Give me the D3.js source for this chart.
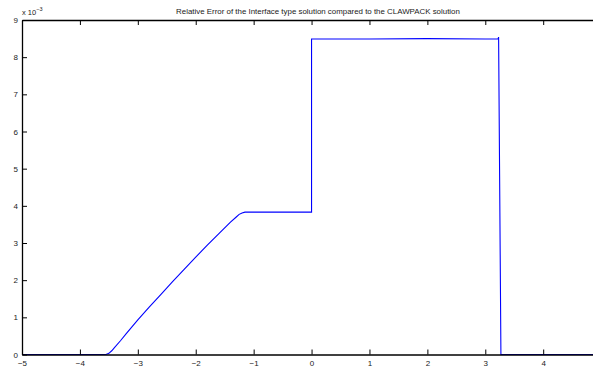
<!DOCTYPE html>
<html>
<head>
<meta charset="utf-8">
<script src="https://cdn.jsdelivr.net/npm/d3@7"></script>
<style>
  html, body { margin: 0; padding: 0; background: #fff; }
  svg { display: block; }
  text { font-family: "Liberation Sans", Arial, Helvetica, sans-serif; fill: #222; }
</style>
</head>
<body>
<svg id="chart" width="593" height="367"></svg>
<script>
// Relative error (x 10^-3) of the interface-type solution vs. the CLAWPACK solution
const xs = [-5, -3.55, -3.5, -3.45, -3.4, -3.3, -3.2, -3.0, -2.8, -2.6, -2.4, -2.2, -2.0,
            -1.8, -1.6, -1.4, -1.3, -1.25, -1.2, -1.15, -1.0, 0.0, 0.0, 1.0, 2.0, 3.0,
            3.2, 3.22, 3.23, 3.27, 4.86];
const errs = [0, 0, 0.03, 0.1, 0.19, 0.37, 0.56, 0.93, 1.28, 1.62, 1.96, 2.29, 2.62,
              2.94, 3.25, 3.56, 3.70, 3.77, 3.81, 3.83, 3.83, 3.83, 8.49, 8.49, 8.50, 8.49,
              8.49, 8.49, 8.54, 0, 0];
const xTicks = [-5, -4, -3, -2, -1, 0, 1, 2, 3, 4];
const yTicks = [0, 1, 2, 3, 4, 5, 6, 7, 8, 9];
const titleText = "Relative Error of the Interface type solution compared to the CLAWPACK solution";

const svg = d3.select("#chart");
const plotLeft = 22, plotRight = 593, plotTop = 20, plotBottom = 354.5;

const x = d3.scaleLinear().domain([-5, 4.86]).range([plotLeft, plotRight]);
const y = d3.scaleLinear().domain([0, 9]).range([plotBottom, plotTop]);

// data line
const line = d3.line().x((d, i) => x(xs[i])).y((d, i) => y(errs[i]));
svg.append("path")
  .datum(errs)
  .attr("d", line)
  .attr("fill", "none")
  .attr("stroke", "#0000ff")
  .attr("stroke-width", 1.1);

// axes: inward ticks, MATLAB style
const fmt = d => (d < 0 ? "\u2212" + Math.abs(d) : String(d));

const xAxisB = svg.append("g")
  .attr("transform", `translate(0,${plotBottom})`)
  .call(d3.axisBottom(x).tickValues(xTicks).tickSizeInner(-5).tickSizeOuter(0).tickPadding(4).tickFormat(fmt));
const xAxisT = svg.append("g")
  .attr("transform", `translate(0,${plotTop})`)
  .call(d3.axisTop(x).tickValues(xTicks).tickSizeInner(-5).tickSizeOuter(0).tickFormat(() => ""));
const yAxisL = svg.append("g")
  .attr("transform", `translate(${plotLeft},0)`)
  .call(d3.axisLeft(y).tickValues(yTicks).tickSizeInner(-5).tickSizeOuter(0).tickPadding(4).tickFormat(fmt));

[xAxisB, xAxisT, yAxisL].forEach(g => {
  g.select(".domain").attr("stroke", "#000").attr("stroke-width", 1.3);
  g.selectAll(".tick line").attr("stroke", "#000").attr("stroke-width", 1);
  g.selectAll(".tick text")
    .style("font-family", "'Liberation Sans', Arial, sans-serif")
    .style("font-size", "8px")
    .attr("fill", "#222");
});
xAxisB.selectAll(".tick text").attr("dy", "0.9em");

// exponent label
const expo = svg.append("text")
  .attr("x", plotLeft)
  .attr("y", 15)
  .style("font-size", "7.5px");
expo.append("tspan").text("x 10");
expo.append("tspan").attr("dy", -4).style("font-size", "5.5px").text("\u22123");

// title
svg.append("text")
  .attr("x", 318)
  .attr("y", 14)
  .attr("text-anchor", "middle")
  .style("font-size", "7.9px")
  .text(titleText);
</script>
</body>
</html>
